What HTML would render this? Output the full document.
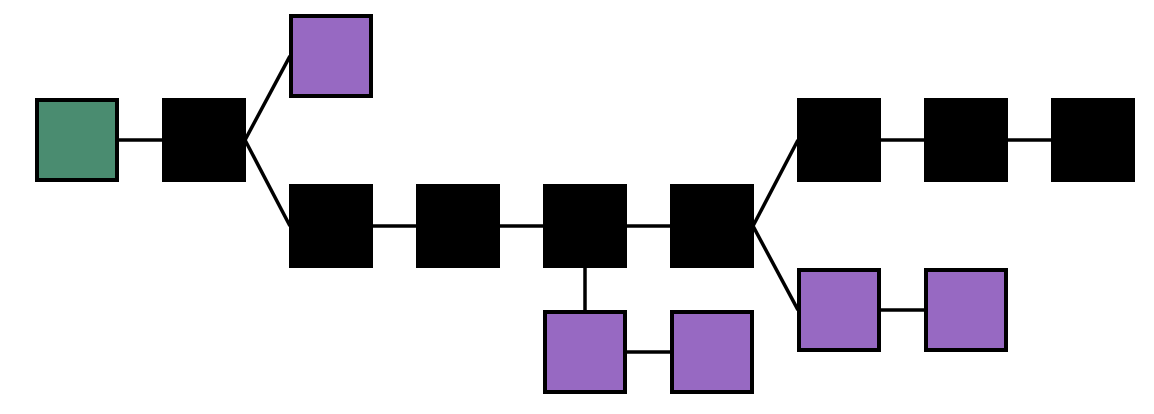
<!DOCTYPE html>
<html><head><style>body{margin:0;background:#fff}svg{display:block}</style></head>
<body>
<svg width="1154" height="414" xmlns="http://www.w3.org/2000/svg">
<g stroke="#000" stroke-width="3.5" fill="none">
<line x1="119" y1="140" x2="162" y2="140"/>
<line x1="245" y1="140" x2="290" y2="56"/>
<line x1="245" y1="140" x2="290" y2="226"/>
<line x1="372" y1="226" x2="417" y2="226"/>
<line x1="499" y1="226" x2="544" y2="226"/>
<line x1="626" y1="226" x2="671" y2="226"/>
<line x1="585" y1="268" x2="585" y2="312"/>
<line x1="626" y1="352" x2="671" y2="352"/>
<line x1="753" y1="226" x2="798" y2="140"/>
<line x1="753" y1="226" x2="798" y2="310"/>
<line x1="880" y1="140" x2="925" y2="140"/>
<line x1="1007" y1="140" x2="1052" y2="140"/>
<line x1="880" y1="310" x2="925" y2="310"/>
</g>
<g stroke="#000" stroke-width="4">
<rect x="37" y="100" width="80" height="80" fill="#4a8c70"/>
<rect x="164" y="100" width="80" height="80" fill="#000"/>
<rect x="291" y="16" width="80" height="80" fill="#9769c2"/>
<rect x="291" y="186" width="80" height="80" fill="#000"/>
<rect x="418" y="186" width="80" height="80" fill="#000"/>
<rect x="545" y="186" width="80" height="80" fill="#000"/>
<rect x="672" y="186" width="80" height="80" fill="#000"/>
<rect x="799" y="100" width="80" height="80" fill="#000"/>
<rect x="926" y="100" width="80" height="80" fill="#000"/>
<rect x="1053" y="100" width="80" height="80" fill="#000"/>
<rect x="545" y="312" width="80" height="80" fill="#9769c2"/>
<rect x="672" y="312" width="80" height="80" fill="#9769c2"/>
<rect x="799" y="270" width="80" height="80" fill="#9769c2"/>
<rect x="926" y="270" width="80" height="80" fill="#9769c2"/>
</g>
</svg>
</body></html>
